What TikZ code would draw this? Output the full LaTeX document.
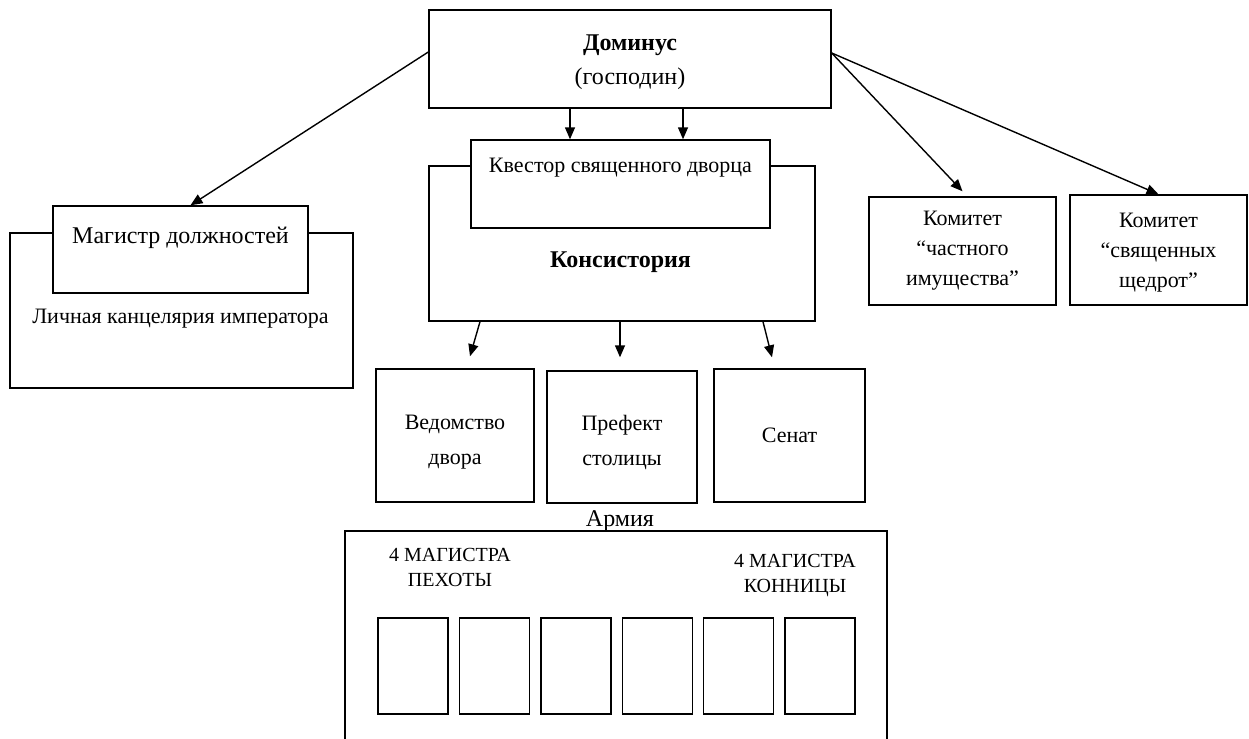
\documentclass[tikz,border=0pt]{standalone}
\usepackage{fontspec}
\setmainfont{Liberation Serif}
\usetikzlibrary{arrows.meta,positioning}

\begin{document}
\begin{tikzpicture}[x=0.5pt, y=-0.5pt, line width=0.7pt,
  font=\fontsize{11}{15}\selectfont,
  main/.style = {draw, rectangle, fill=white, inner sep=0pt, align=center},
  txt/.style = {inner sep=0pt, align=center},
  big/.style = {font=\fontsize{12}{17}\selectfont},
  unit/.style = {main, minimum width=35pt, minimum height=48pt},
  arr/.style = {-{Triangle[length=6pt,width=5pt]}}]

\useasboundingbox (0,0) rectangle (1249,739);

% top
\node[main, big, minimum width=201pt, minimum height=49pt] (dom) at (630,59) {};
\node[txt, big] (domt) at ([yshift=-1.5pt]dom.center) {\textbf{Доминус}\\(господин)};

% consistory with quaestor on top of it
\node[main, minimum width=193pt, minimum height=77.5pt] (kons) at (622,243.5) {};
\node[main, minimum width=149.5pt, minimum height=44pt] (kv) at (620.5,184) {};
\node[txt] (kvt) [below=9pt of kv.north] {Квестор священного дворца};
\node[txt, big] (konst) [below=11pt of kv.south] {\textbf{Консистория}};

% chancellery with master of offices
\node[main, minimum width=171.5pt, minimum height=77.5pt] (kanc) at (181.5,310.5) {};
\node[main, minimum width=127.5pt, minimum height=43.5pt] (mag) at (180.5,249.5) {};
\node[txt, big] (magt) [below=10.5pt of mag.north] {Магистр должностей};
\node[txt] (kanct) [below=7.5pt of mag.south] {Личная канцелярия императора};

% comites
\node[main, minimum width=93.5pt, minimum height=54pt] (kom1) at (962.5,251)
  {Комитет\\“частного\\имущества”};
\node[main, minimum width=88.5pt, minimum height=55pt] (kom2) at (1158.5,250) {};
\node[txt] (kom2t) at ([yshift=-1.5pt]kom2.center) {Комитет\\“священных\\щедрот”};

% under the consistory
\node[main, minimum width=79pt, minimum height=66.5pt] (ved) at (455,435.5) {};
\node[txt, font=\fontsize{11}{17.5}\selectfont] (vedt) at ([yshift=-3.5pt]ved.center) {Ведомство\\двора};
\node[main, minimum width=75pt, minimum height=66pt] (pref) at (622,437) {};
\node[txt, font=\fontsize{11}{17.5}\selectfont] (preft) at ([yshift=-2.75pt]pref.center) {Префект\\столицы};
\node[main, minimum width=75.5pt, minimum height=66.5pt] (sen) at (789.5,435.5) {Сенат};

% army
\node[txt, big] (arm) at (620,521) {Армия};
\coordinate (armsw) at (345,739);
\coordinate (armne) at (887,531);
\coordinate (armse) at (887,739);
\draw (armsw) |- (armne) -- (armse);
\node[txt, font=\fontsize{10}{12.5}\selectfont] (ped) at (450,567.5) {4 МАГИСТРА\\ПЕХОТЫ};
\node[txt, font=\fontsize{10}{12.5}\selectfont] (kon) at (795,575.5) {4 МАГИСТРА\\КОННИЦЫ};

\node[unit] (m1) at (413,666) {};
\node[unit] (m2) [right=5pt of m1] {};
\node[unit] (m3) [right=5pt of m2] {};
\node[unit] (m4) [right=5pt of m3] {};
\node[unit] (m5) [right=5pt of m4] {};
\node[unit] (m6) [right=5pt of m5] {};

% arrows
\draw[arr] ([xshift=-30pt]dom.south) -- ([xshift=-30pt]dom.south |- kv.north);
\draw[arr] ([xshift=26.5pt]dom.south) -- ([xshift=26.5pt]dom.south |- kv.north);
\draw[arr] ([yshift=3.5pt]dom.west) -- ([xshift=5pt]mag.north);
\draw[arr] ([yshift=3pt]dom.east) -- ([yshift=2.5pt]kom1.north);
\draw[arr] ([yshift=3pt]dom.east) -- (kom2.north);
\draw[arr] ([xshift=-71pt]kons.south) -- ([xshift=7.5pt,yshift=6pt]ved.north);
\draw[arr] ([xshift=-1pt]kons.south) -- ([xshift=-1pt,yshift=6.5pt]pref.north);
\draw[arr] ([xshift=70.5pt]kons.south) -- ([xshift=-8.75pt,yshift=5.5pt]sen.north);

\end{tikzpicture}
\end{document}
